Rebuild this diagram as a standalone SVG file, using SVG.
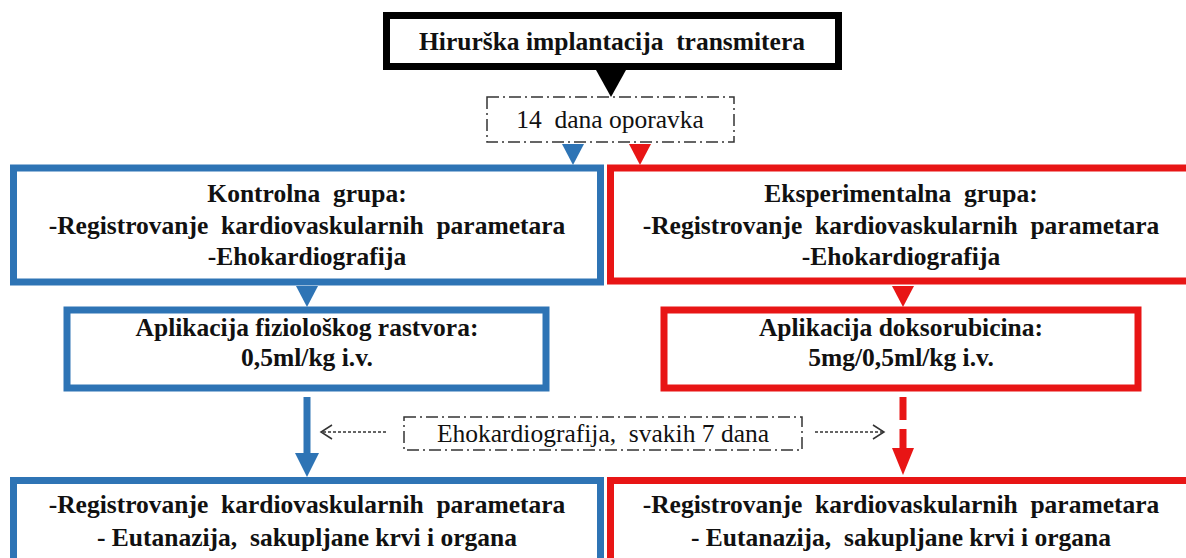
<svg xmlns="http://www.w3.org/2000/svg" width="1186" height="558" viewBox="0 0 1186 558">
<style>
  text { font-family: 'Liberation Serif', 'Times New Roman', serif; font-size: 25.5px; fill: #111; text-anchor: middle; white-space: pre; }
  .b { font-weight: bold; }
  .box { fill: #fff; stroke-width: 7; }
  .blue { stroke: #2E74B5; }
  .red { stroke: #E81515; }
  .black { stroke: #000; }
  .dash { fill: #fff; stroke: #333; stroke-width: 1.5; stroke-dasharray: 12 4 2 4; }
  .thin { fill: none; stroke: #333; stroke-width: 1.5; }
</style>
<rect width="1186" height="558" fill="#fff"/>

<g id="connectors">
  <polygon points="596,70 626,70 611,97" fill="#000"/>
  <polygon points="562,144 584,144 573,165" fill="#2E74B5"/>
  <polygon points="629,144 651,144 640,165" fill="#E81515"/>
  <polygon points="296,286 318,286 307,307" fill="#2E74B5"/>
  <polygon points="892,286 914,286 903,307" fill="#E81515"/>
  <line x1="307" y1="397" x2="307" y2="456" stroke="#2E74B5" stroke-width="7"/>
  <polygon points="295,453 319,453 307,477" fill="#2E74B5"/>
  <line x1="903" y1="397" x2="903" y2="420" stroke="#E81515" stroke-width="7"/>
  <line x1="903" y1="429" x2="903" y2="451" stroke="#E81515" stroke-width="7"/>
  <polygon points="892,448 914,448 903,475" fill="#E81515"/>
  <line x1="386" y1="432" x2="322" y2="432" class="thin" stroke-dasharray="3 2"/>
  <polyline points="332,425 321,432 332,439" class="thin"/>
  <line x1="815" y1="432" x2="883" y2="432" class="thin" stroke-dasharray="3 2"/>
  <polyline points="873,425 884,432 873,439" class="thin"/>
</g>

<g id="n-implantacija">
  <rect x="386.5" y="15.5" width="452" height="51" class="box black"/>
  <text x="612" y="50" class="b">Hirurška implantacija  transmitera</text>
</g>

<g id="n-oporavak">
  <rect x="487" y="97" width="247" height="45" class="dash"/>
  <text x="610" y="128">14  dana oporavka</text>
</g>

<g id="n-kontrolna">
  <rect x="13.5" y="168" width="587" height="114" class="box blue"/>
  <text x="307" y="202" class="b">Kontrolna  grupa:</text>
  <text x="307" y="234" class="b">-Registrovanje  kardiovaskularnih  parametara</text>
  <text x="307" y="265" class="b">-Ehokardiografija</text>
</g>

<g id="n-eksperimentalna">
  <rect x="610.5" y="168" width="590" height="113" class="box red"/>
  <text x="901" y="202" class="b">Eksperimentalna  grupa:</text>
  <text x="901" y="234" class="b">-Registrovanje  kardiovaskularnih  parametara</text>
  <text x="901" y="265" class="b">-Ehokardiografija</text>
</g>

<g id="n-fizioloski">
  <rect x="67" y="310" width="479" height="78" class="box blue"/>
  <text x="307" y="336" class="b">Aplikacija fiziološkog rastvora:</text>
  <text x="307" y="366" class="b">0,5ml/kg i.v.</text>
</g>

<g id="n-doksorubicin">
  <rect x="664" y="310" width="474" height="78" class="box red"/>
  <text x="901" y="336" class="b">Aplikacija doksorubicina:</text>
  <text x="901" y="366" class="b">5mg/0,5ml/kg i.v.</text>
</g>

<g id="n-ehokardiografija">
  <rect x="404" y="417" width="398" height="33" class="dash"/>
  <text x="603" y="442">Ehokardiografija,  svakih 7 dana</text>
</g>

<g id="n-kraj-kontrolna">
  <rect x="13.5" y="480.5" width="587" height="90" class="box blue"/>
  <text x="307" y="513" class="b">-Registrovanje  kardiovaskularnih  parametara</text>
  <text x="307" y="546" class="b">- Eutanazija,  sakupljane krvi i organa</text>
</g>

<g id="n-kraj-eksperimentalna">
  <rect x="610.5" y="480.5" width="590" height="90" class="box red"/>
  <text x="901" y="513" class="b">-Registrovanje  kardiovaskularnih  parametara</text>
  <text x="901" y="546" class="b">- Eutanazija,  sakupljane krvi i organa</text>
</g>
</svg>
